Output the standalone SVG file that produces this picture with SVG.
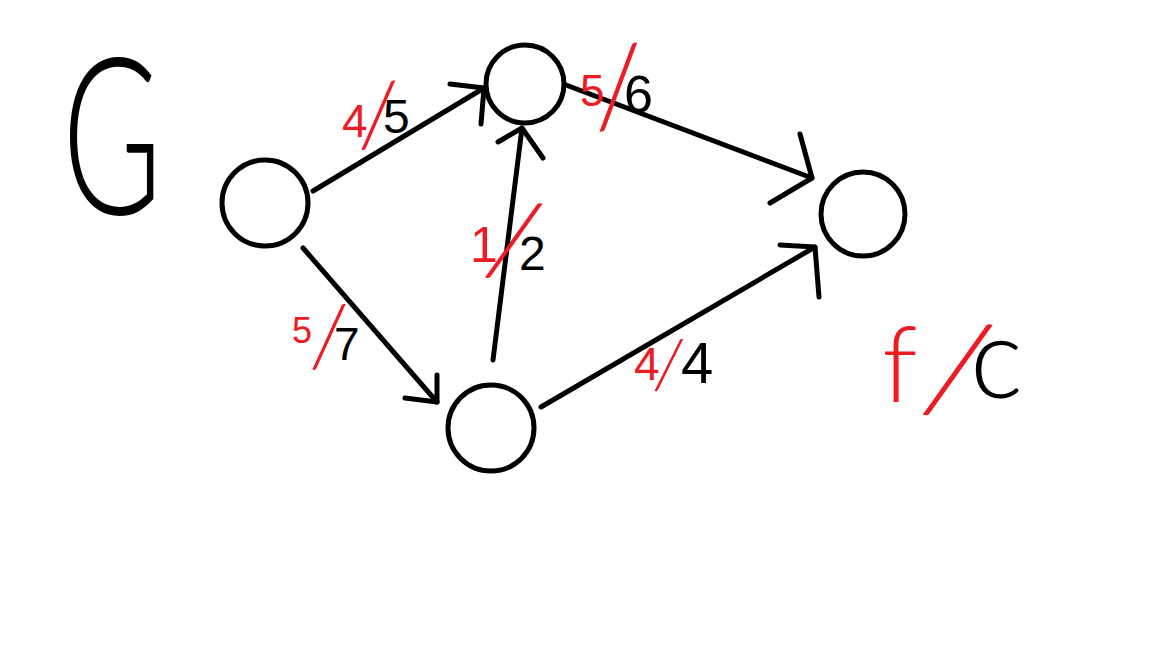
<svg xmlns="http://www.w3.org/2000/svg" width="1152" height="648" viewBox="0 0 1152 648">
<style>
.node{fill:none;stroke:#000;stroke-width:5}
.edge{fill:none;stroke:#000;stroke-width:5;stroke-linecap:round;stroke-linejoin:round}
text{font-family:"Liberation Sans",Arial,sans-serif;fill:#000}
.f{fill:#ed1c24}
.sl{font-family:Lato,"Liberation Sans",sans-serif;font-weight:300;fill:#ed1c24}
.thin{font-family:Lato,"Liberation Sans",sans-serif;font-weight:300}
</style>
<rect width="1152" height="648" fill="#fff"/>
<g id="title">
<text class="thin" transform="translate(62,214) scale(0.62,1)" font-size="220">G</text>
</g>
<g id="connectors">
<g id="e-s-a"><path class="edge" d="M313,191 L484,88"/><path class="edge" d="M450,84 L484,88 L481,124"/></g>
<g id="e-a-t"><path class="edge" d="M566,85 L812,178"/><path class="edge" d="M800,134 L812,178 L770,203"/></g>
<g id="e-s-b"><path class="edge" d="M303,248 L437,402"/><path class="edge" d="M437,375 L437,402 L405,398"/></g>
<g id="e-b-a"><path class="edge" d="M493,360 L522,128"/><path class="edge" d="M498,142 L522,128 L543,158"/></g>
<g id="e-b-t"><path class="edge" d="M541,407 L815,247"/><path class="edge" d="M780,245 L815,247 L819,297"/></g>
</g>
<g id="node-s"><circle class="node" cx="265" cy="203" r="43"/></g>
<g id="node-a"><circle class="node" cx="525" cy="84" r="39"/></g>
<g id="node-b"><circle class="node" cx="491" cy="428" r="43"/></g>
<g id="node-t"><circle class="node" cx="863" cy="214" r="42"/></g>
<g id="labels">
<text id="l-s-a"><tspan class="f" x="342" y="137" font-size="46">4</tspan><tspan class="sl" x="358" y="146" font-size="91" rotate="1">/</tspan><tspan x="383" y="133" font-size="48">5</tspan></text>
<text id="l-a-t"><tspan class="f" x="580" y="106" font-size="44">5</tspan><tspan class="sl" x="595" y="127" font-size="114" rotate="-2">/</tspan><tspan x="624" y="112" font-size="52">6</tspan></text>
<text id="l-b-a"><tspan class="f" x="470" y="262" font-size="50">1</tspan><tspan class="sl" x="482" y="272" font-size="110" rotate="13">/</tspan><tspan x="519" y="270" font-size="48">2</tspan></text>
<text id="l-s-b"><tspan class="f" x="292" y="343" font-size="36">5</tspan><tspan class="sl" x="309" y="366" font-size="87" rotate="2">/</tspan><tspan x="334" y="360" font-size="46">7</tspan></text>
<text id="l-b-t"><tspan class="f" x="634" y="380" font-size="46">4</tspan><tspan class="sl" x="652" y="388" font-size="70" rotate="4">/</tspan><tspan x="681" y="383" font-size="58">4</tspan></text>
<text id="legend"><tspan class="sl" x="882" y="402" font-size="104">f</tspan><tspan class="sl" x="919" y="408" font-size="134" rotate="13">/</tspan><tspan class="thin" x="970" y="398" font-size="112">c</tspan></text>
</g>
</svg>
